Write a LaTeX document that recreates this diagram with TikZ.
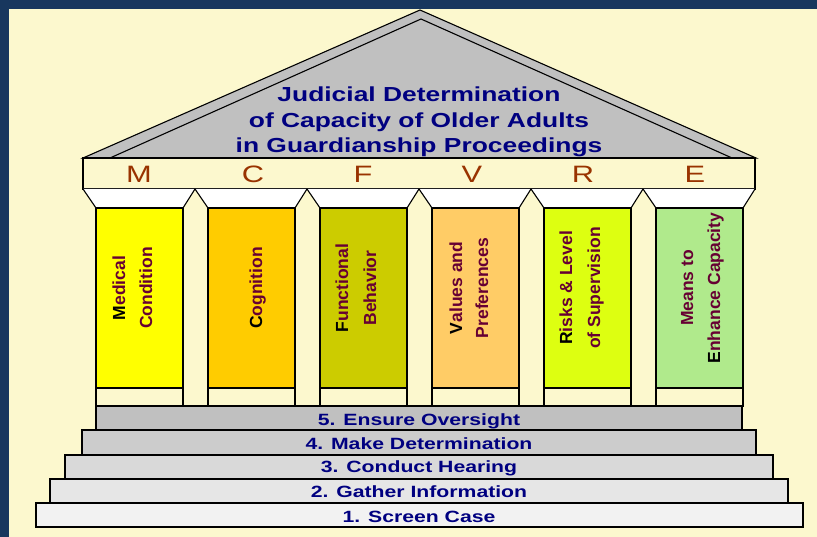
\documentclass[tikz,border=0pt]{standalone}
\usepackage{fontspec}
\setmainfont{Liberation Sans}
\newfontfamily\widesans{Liberation Sans}[FakeStretch=1.3]

\definecolor{framenavy}{HTML}{18375E}
\definecolor{paper}{HTML}{FCF8CE}
\definecolor{roofgray}{HTML}{C0C0C0}
\definecolor{titlenavy}{HTML}{000080}
\definecolor{letterbrown}{HTML}{993300}
\definecolor{maroon}{HTML}{660033}
\definecolor{colM}{HTML}{FFFF00}
\definecolor{colC}{HTML}{FFCC00}
\definecolor{colF}{HTML}{CCCC00}
\definecolor{colV}{HTML}{FFCC66}
\definecolor{colR}{HTML}{DDFF11}
\definecolor{colE}{HTML}{B0EA8C}
\definecolor{stepA}{HTML}{F2F2F2}
\definecolor{stepB}{HTML}{E6E6E6}
\definecolor{stepC}{HTML}{D9D9D9}
\definecolor{stepD}{HTML}{CCCCCC}
\definecolor{stepE}{HTML}{C0C0C0}

\newcommand\firstletter[1]{{\color{black}#1}}

\tikzset{
  outline/.style={draw=black, line width=1.1pt},
  titleline/.style={anchor=base, inner sep=0pt, text=titlenavy, font=\widesans\bfseries\fontsize{20.3}{24}\selectfont},
  letter/.style={anchor=base, inner sep=0pt, text=letterbrown, font=\widesans\fontsize{23.7}{28}\selectfont},
  coltext/.style={anchor=base, rotate=90, inner sep=0pt, text=maroon, font=\bfseries\fontsize{17.5}{21}\selectfont},
  steptext/.style={anchor=base, inner sep=0pt, text=titlenavy, font=\widesans\bfseries\fontsize{16.3}{20}\selectfont}
}

\begin{document}
\begin{tikzpicture}[x=1pt,y=-1pt]
\useasboundingbox (0,0) rectangle (817,537);
\fill[framenavy] (0,0) rectangle (817,537); % Frame
\fill[paper] (9,9) rectangle (817,537); % Paper

% roof
\draw[outline, fill=roofgray] (83,158) -- (420,10) -- (756,158) -- cycle; % Roof
\draw[outline] (110,158) -- (421,19) -- (732,158); % Roof.inner
\node[titleline] (title1) at (419,102) {Judicial Determination};
\node[titleline] (title2) at (419,127.5) {of Capacity of Older Adults};
\node[titleline] (title3) at (419,153) {in Guardianship Proceedings};

% frieze
\draw[outline, fill=paper] (83,158) rectangle (755,189); % Frieze
\node[letter] (letM) at (139,183) {M};
\node[letter] (letC) at (253,183) {C};
\node[letter] (letF) at (363,183) {F};
\node[letter] (letV) at (472,183) {V};
\node[letter] (letR) at (583,183) {R};
\node[letter] (letE) at (695,183) {E};

% capitals
\draw[outline, fill=white] (83,189) -- (96,208) -- (183,208) -- (195,189); % Capital.M
\draw[outline, fill=white] (195,189) -- (208,208) -- (295,208) -- (307,189); % Capital.C
\draw[outline, fill=white] (307,189) -- (320,208) -- (407,208) -- (419,189); % Capital.F
\draw[outline, fill=white] (419,189) -- (432,208) -- (519,208) -- (531,189); % Capital.V
\draw[outline, fill=white] (531,189) -- (544,208) -- (631,208) -- (643,189); % Capital.R
\draw[outline, fill=white] (643,189) -- (656,208) -- (743,208) -- (755,189); % Capital.E

% columns
\draw[outline, fill=colM] (96,208) rectangle (183,388); % Column.M
\draw[outline, fill=paper] (96,388) rectangle (183,406);
\draw[outline, fill=colC] (208,208) rectangle (295,388); % Column.C
\draw[outline, fill=paper] (208,388) rectangle (295,406);
\draw[outline, fill=colF] (320,208) rectangle (407,388); % Column.F
\draw[outline, fill=paper] (320,388) rectangle (407,406);
\draw[outline, fill=colV] (432,208) rectangle (519,388); % Column.V
\draw[outline, fill=paper] (432,388) rectangle (519,406);
\draw[outline, fill=colR] (544,208) rectangle (631,388); % Column.R
\draw[outline, fill=paper] (544,388) rectangle (631,406);
\draw[outline, fill=colE] (656,208) rectangle (743,388); % Column.E
\draw[outline, fill=paper] (656,388) rectangle (743,406);

\node[coltext] (medical) at (125,288) {\firstletter{M}edical};
\node[coltext] (condition) at (152,288) {Condition};
\node[coltext] (cognition) at (262,288) {\firstletter{C}ognition};
\node[coltext] (functional) at (348,288) {\firstletter{F}unctional};
\node[coltext] (behavior) at (376,288) {Behavior};
\node[coltext] (values) at (462,288) {\firstletter{V}alues and};
\node[coltext] (preferences) at (488,288) {Preferences};
\node[coltext] (risks) at (572,288) {\firstletter{R}isks \& Level};
\node[coltext] (supervision) at (600,288) {of Supervision};
\node[coltext] (means) at (693,288) {Means to};
\node[coltext] (enhance) at (720,288) {\firstletter{E}nhance Capacity};

% steps
\draw[outline, fill=stepE] (96,406) rectangle (742,430); % Step.5
\node[steptext] (step5) at (419,425) {5. Ensure Oversight};
\draw[outline, fill=stepD] (82,430) rectangle (756,455); % Step.4
\node[steptext] (step4) at (419,449.5) {4. Make Determination};
\draw[outline, fill=stepC] (65,455) rectangle (773,479); % Step.3
\node[steptext] (step3) at (419,472.5) {3. Conduct Hearing};
\draw[outline, fill=stepB] (50,479) rectangle (788,503); % Step.2
\node[steptext] (step2) at (419,497) {2. Gather Information};
\draw[outline, fill=stepA] (36,503) rectangle (803,527); % Step.1
\node[steptext] (step1) at (419,522) {1. Screen Case};
\end{tikzpicture}
\end{document}
